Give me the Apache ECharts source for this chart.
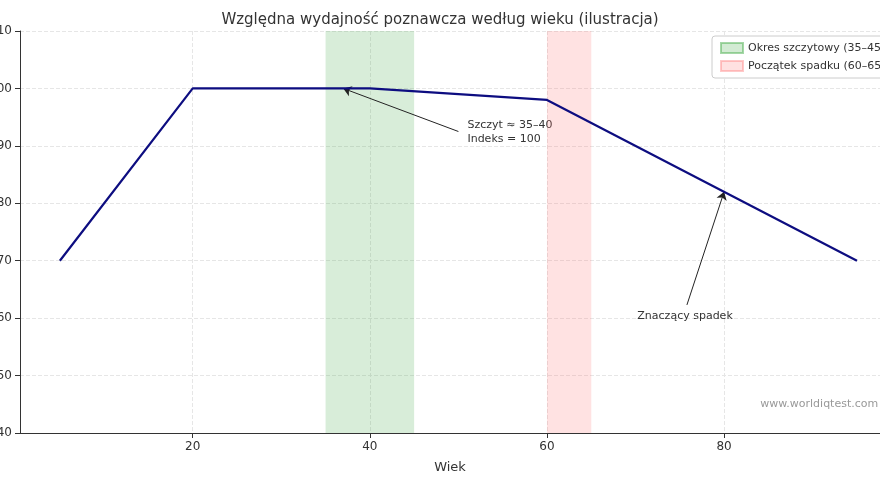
<!DOCTYPE html><html><head><meta charset="utf-8"><script src="https://cdn.jsdelivr.net/npm/echarts@6/dist/echarts.min.js"></script></head><body style="margin:0"><div id="c" style="width:880px;height:480px"></div><script>
const ages=[5,20,40,60,95];
const perf=[70,100,100,98,70];
const peakBand=[35,45];
const declineBand=[60,65];
const yTicks=[40,50,60,70,80,90,100,110];
const c=echarts.init(document.getElementById('c'));
const F='DejaVu Sans';
c.setOption({
animation:false,textStyle:{fontFamily:F},
title:{text:'Względna wydajność poznawcza według wieku (ilustracja)',left:'center',top:8,textStyle:{fontFamily:F,fontSize:15,fontWeight:'normal',color:'#333'}},
legend:{orient:'vertical',left:712,top:36,icon:'rect',itemWidth:22,itemHeight:10,itemGap:6,padding:[6,8],borderColor:'#ccc',borderWidth:1,borderRadius:3,backgroundColor:'#fff',textStyle:{fontFamily:F,fontSize:11,color:'#333'},data:['Okres szczytowy (35–45)','Początek spadku (60–65)']},
grid:{left:20,right:0,top:31,bottom:47,containLabel:false,outerBoundsMode:'none'},
xAxis:{type:'value',min:0.5,max:97.6,interval:20,name:'Wiek',nameLocation:'middle',nameGap:28,nameTextStyle:{fontSize:13,color:'#333'},
axisLabel:{fontSize:12,color:'#333',customValues:[20,40,60,80]},axisTick:{customValues:[20,40,60,80]},axisLine:{lineStyle:{color:'#333'}},
splitLine:{show:true,lineStyle:{type:'dashed',color:'#e6e6e6'}}},
yAxis:{type:'value',min:40,max:110,interval:10,axisLabel:{fontSize:12,color:'#333'},axisLine:{show:true,lineStyle:{color:'#333'}},axisTick:{show:true},splitLine:{lineStyle:{type:'dashed',color:'#e6e6e6'}}},
series:[
{name:'Okres szczytowy (35–45)',type:'line',data:[],symbol:'rect',itemStyle:{color:'rgba(76,175,80,0.25)',borderColor:'rgba(76,175,80,0.5)',borderWidth:1},lineStyle:{width:0},
markArea:{silent:true,itemStyle:{color:'rgba(76,175,80,0.22)'},data:[[{xAxis:peakBand[0]},{xAxis:peakBand[1]}]]}},
{name:'Początek spadku (60–65)',type:'line',data:[],symbol:'rect',itemStyle:{color:'rgba(255,120,120,0.22)',borderColor:'rgba(255,120,120,0.4)',borderWidth:1},lineStyle:{width:0},
markArea:{silent:true,itemStyle:{color:'rgba(255,110,110,0.2)'},data:[[{xAxis:declineBand[0]},{xAxis:declineBand[1]}]]}},
{type:'line',data:ages.map((a,i)=>[a,perf[i]]),symbol:'none',lineStyle:{color:'#0d0d80',width:2.2},z:5,
markLine:{silent:true,symbol:['none','arrow'],symbolSize:8,lineStyle:{color:'#222',width:1,type:'solid'},label:{show:false},
data:[[{coord:[50,92.5]},{coord:[37,100]}],[{coord:[75.8,62.3]},{coord:[80,82]}]]}},
]
});
const p1=c.convertToPixel({gridIndex:0},[50,94.5]);
const p2=c.convertToPixel({gridIndex:0},[70.2,61.3]);
const p3=c.convertToPixel({gridIndex:0},[97.4,46]);
c.setOption({graphic:[
{type:'text',x:p1[0]+9,y:p1[1]-2,style:{text:'Szczyt ≈ 35–40\nIndeks = 100',font:'11px DejaVu Sans',fill:'#333',lineHeight:14}},
{type:'text',x:p2[0],y:p2[1],style:{text:'Znaczący spadek',font:'11px DejaVu Sans',fill:'#333'}},
{type:'text',x:p3[0],y:p3[1],style:{text:'www.worldiqtest.com',font:'11px DejaVu Sans',fill:'#999',align:'right'}}
]});
</script></body></html>
